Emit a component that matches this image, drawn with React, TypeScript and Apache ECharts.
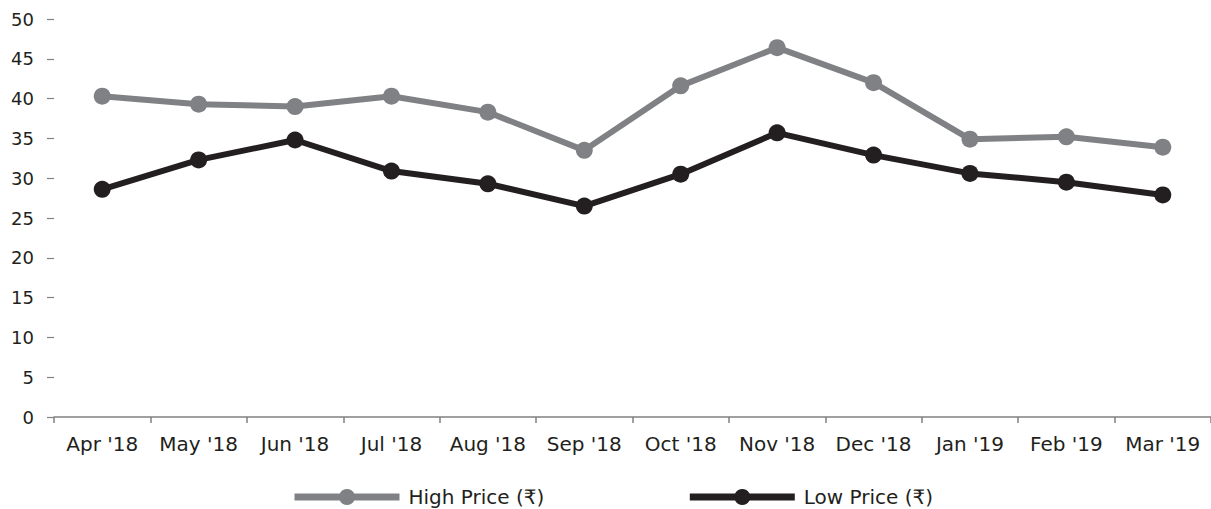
import React, { useEffect, useRef } from "react";
import * as echarts from "echarts";

const categories = ["Apr '18", "May '18", "Jun '18", "Jul '18", "Aug '18", "Sep '18", "Oct '18", "Nov '18", "Dec '18", "Jan '19", "Feb '19", "Mar '19"];
const highPrice = [40.3, 39.3, 39.0, 40.3, 38.3, 33.5, 41.6, 46.4, 42.0, 34.9, 35.2, 33.9];
const lowPrice = [28.6, 32.3, 34.8, 30.9, 29.3, 26.5, 30.5, 35.7, 32.9, 30.6, 29.5, 27.9];
const seriesNames = ["High Price (₹)", "Low Price (₹)"];

const FONT = "'DejaVu Sans', sans-serif";
const TEXT = "#231f20";
const WEIGHT = "normal";

export default function App() {
  const ref = useRef<HTMLDivElement>(null);
  useEffect(() => {
    if (!ref.current) return;
    const chart = echarts.init(ref.current, undefined, { renderer: "svg" });
    chart.setOption({
      animation: false,
      textStyle: { fontFamily: FONT },
      grid: { left: 54, right: 0, top: 19, bottom: 92 },
      legend: {
        top: 487,
        left: 291,
        padding: 0,
        itemGap: 142,
        itemWidth: 105,
        itemHeight: 20,
        lineStyle: { width: 7 },
        textStyle: { fontSize: 20, color: TEXT, fontFamily: FONT, fontWeight: WEIGHT, padding: [0, 0, 0, 4] },
        data: seriesNames,
      },
      xAxis: {
        type: "category",
        data: categories,
        boundaryGap: true,
        axisLine: { show: true, lineStyle: { color: "#808184", width: 1.5 } },
        axisTick: { show: true, length: 6, lineStyle: { color: "#808184", width: 1.5 } },
        axisLabel: { fontSize: 20, color: TEXT, margin: 17, fontFamily: FONT, fontWeight: WEIGHT, interval: 0 },
      },
      yAxis: {
        type: "value",
        min: 0,
        max: 50,
        interval: 5,
        axisLine: { show: false },
        axisTick: { show: true, length: 7, lineStyle: { color: "#808184", width: 1.2 } },
        splitLine: { show: false },
        axisLabel: { fontSize: 18, color: TEXT, margin: 20, fontFamily: FONT, fontWeight: WEIGHT },
      },
      series: [
        {
          name: seriesNames[0],
          type: "line",
          data: highPrice,
          symbol: "circle",
          symbolSize: 17,
          lineStyle: { color: "#808184", width: 6 },
          itemStyle: { color: "#808184" },
        },
        {
          name: seriesNames[1],
          type: "line",
          data: lowPrice,
          symbol: "circle",
          symbolSize: 17,
          lineStyle: { color: "#231f20", width: 6 },
          itemStyle: { color: "#231f20" },
        },
      ],
    });
    return () => chart.dispose();
  }, []);
  return <div ref={ref} style={{ width: 1211, height: 509, position: "absolute", left: 0, top: 0 }} />;
}
